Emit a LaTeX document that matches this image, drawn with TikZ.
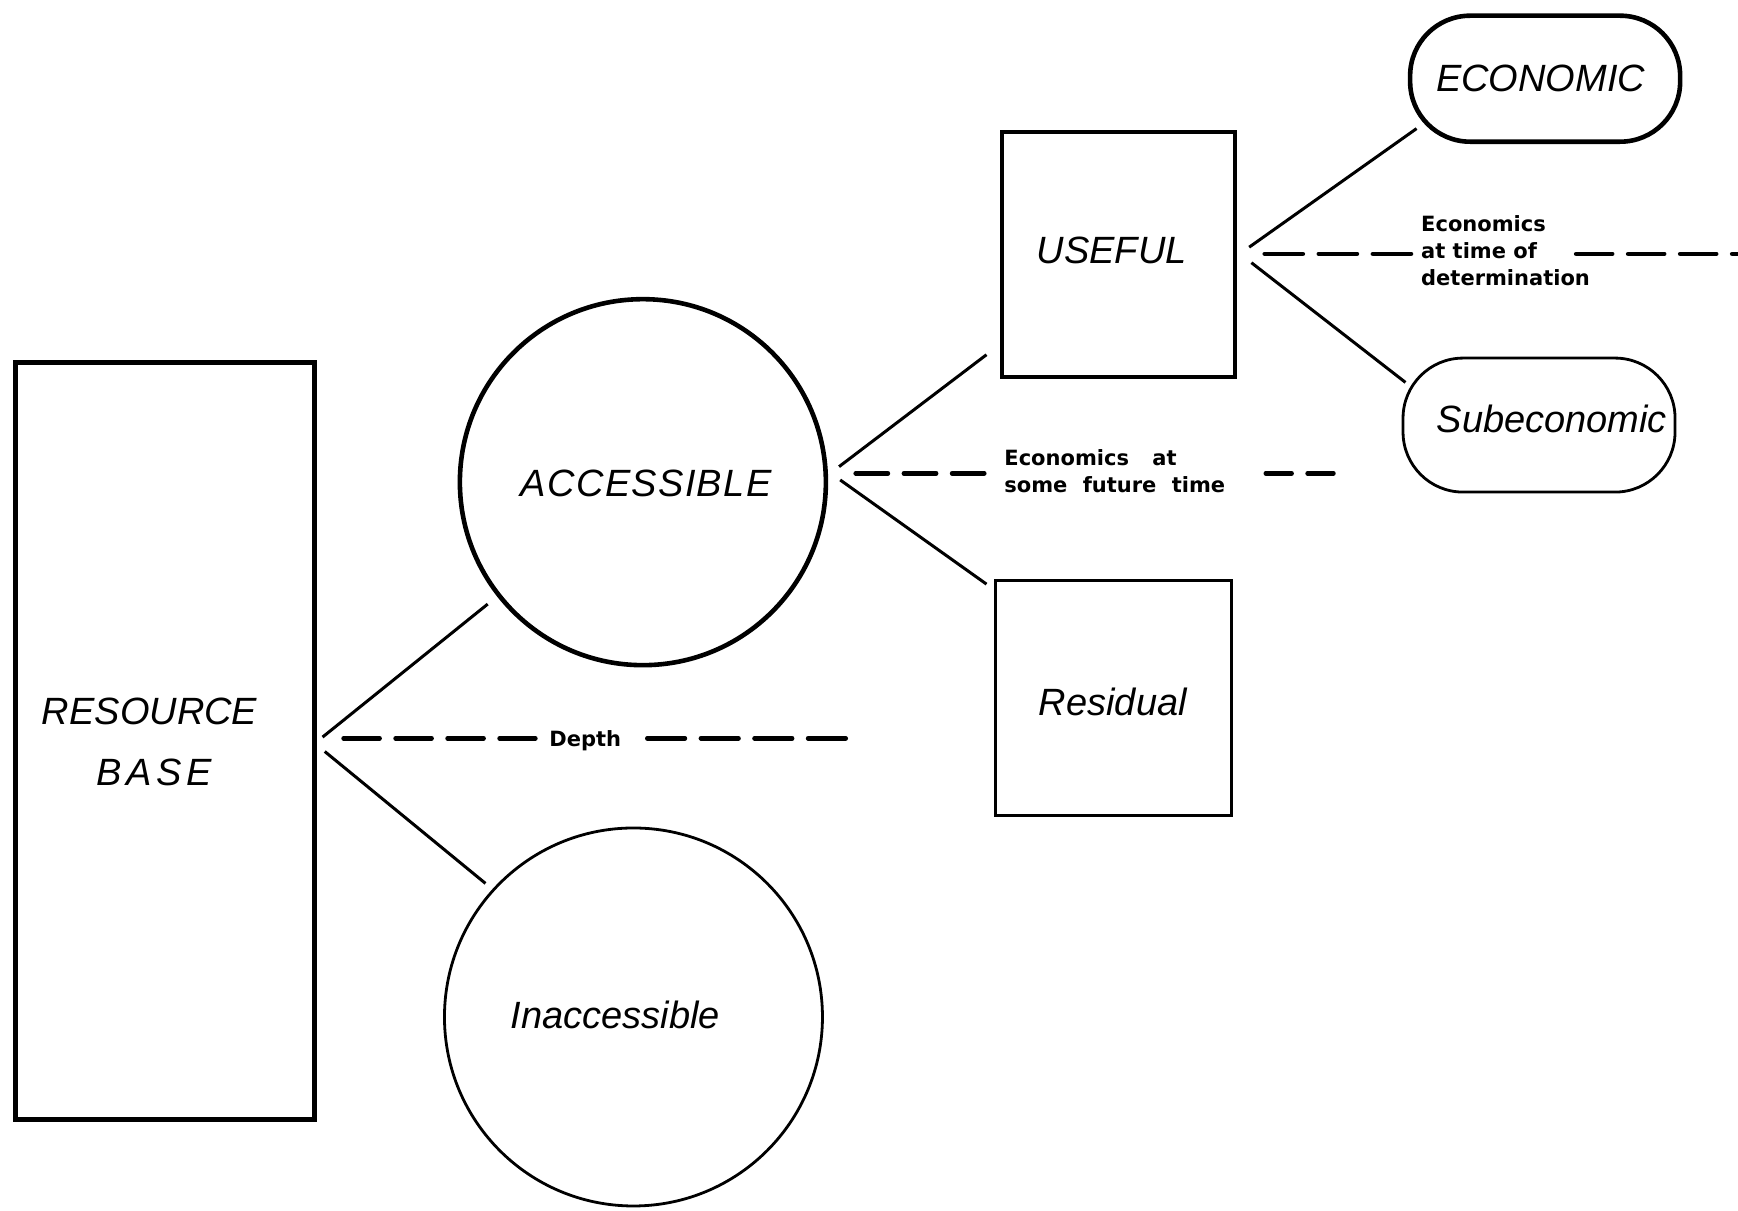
\documentclass[tikz,border=0pt]{standalone}
\usepackage{fontspec}
\setmainfont{Liberation Sans}
\newfontfamily\notefont{DejaVu Sans}
\begin{document}
\begin{tikzpicture}[x=1.1084pt,y=-1.1084pt,
  thickbox/.style={draw,line width=4.6pt,inner sep=0pt},
  thinbox/.style={draw,line width=2.8pt,inner sep=0pt},
  term/.style={font=\fontsize{38}{46}\selectfont\itshape,inner sep=0pt},
  note/.style={font=\fontsize{21}{27}\selectfont\notefont\bfseries,align=left,inner sep=0pt},
  fan/.style={line width=3pt},
  cut/.style={line width=4.6pt,dash pattern=on #1 off 16pt,line cap=round},
  cut/.default=36pt]
\useasboundingbox (0,0) rectangle (1568,1092);

% shapes
\node[thickbox,minimum width=299pt,minimum height=757pt] (rb) at (149,668.5) {};
\node[thickbox,circle,minimum size=366pt] (acc) at (580,435) {};
\node[thinbox,circle,minimum size=378pt] (inacc) at (571.5,917.5) {};
\node[thickbox,minimum width=233pt,minimum height=245pt] (use) at (1009,229.5) {};
\node[thinbox,minimum width=236pt,minimum height=235pt] (res) at (1004.5,630) {};
\node[thickbox,rounded corners=60pt,minimum width=270pt,minimum height=126pt] (eco) at (1394,71) {};
\node[thinbox,rounded corners=60pt,minimum width=272pt,minimum height=134pt] (sub) at (1388.5,383.5) {};

% labels
\node[term] (rbt1) at (135,642) {RESOURCE};
\node[term] (rbt2) at (139,697) {B\kern4.5pt A\kern4.5pt S\kern4.5pt E};
\node[term] (acct) at (583,436) {\addfontfeature{LetterSpace=3.5}ACCESSIBLE};
\node[term] (inacct) at (555,916) {Inaccessible};
\node[term] (uset) at (1003,226) {USEFUL};
\node[term] (rest) at (1004,633) {Residual};
\node[term] (ecot) at (1390,71) {ECONOMIC};
\node[term] (subt) at (1400,378) {Subeconomic};

% branch points and ends
\coordinate (rbA) at (291,665);  \coordinate (rbB) at (440,545);
\coordinate (rbC) at (293,678);  \coordinate (rbD) at (438,797);
\coordinate (acA) at (757,421);  \coordinate (acB) at (890,320);
\coordinate (acC) at (758,433);  \coordinate (acD) at (890,527);
\coordinate (usA) at (1127,223); \coordinate (usB) at (1278,116);
\coordinate (usC) at (1129,237); \coordinate (usD) at (1268,345);
\draw[fan] (rbA) -- (rbB);
\draw[fan] (rbC) -- (rbD);
\draw[fan] (acA) -- (acB);
\draw[fan] (acC) -- (acD);
\draw[fan] (usA) -- (usB);
\draw[fan] (usC) -- (usD);

% dividing criteria
\node[note] (depth) at (528,668) {Depth};
\coordinate (dp0) at (310,666);  \coordinate (dp1) at (483,666);
\coordinate (dp2) at (584,666);  \coordinate (dp3) at (763,666);
\draw[cut=36pt] (dp0) -- (dp1);
\draw[cut=37.6pt] (dp2) -- (dp3);

\node[note,anchor=west] (future) at (906,425)
  {Economics\hspace{16pt} at\\some\hspace{8pt} future\hspace{8pt} time};
\coordinate (fu0) at (772,427);  \coordinate (fu1) at (888,427);
\coordinate (fu2) at (1142,427); \coordinate (fu3) at (1203,427);
\draw[cut=32.2pt] (fu0) -- (fu1);
\draw[cut=25.8pt] (fu2) -- (fu3);

\node[note,anchor=west] (now) at (1282,226) {Economics\\at time of\\determination};
\coordinate (nw0) at (1141,229); \coordinate (nw1) at (1273,229);
\coordinate (nw2) at (1422,229); \coordinate (nw3) at (1600,229);
\draw[cut=38.1pt] (nw0) -- (nw1);
\draw[cut=36pt] (nw2) -- (nw3);
\end{tikzpicture}
\end{document}
